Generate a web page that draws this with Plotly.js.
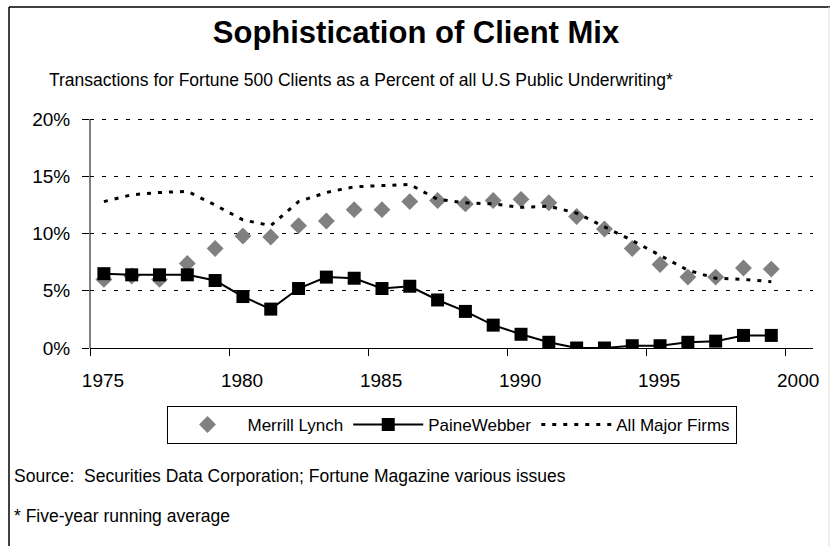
<!DOCTYPE html>
<html>
<head>
<meta charset="utf-8">
<script src="https://cdn.plot.ly/plotly-3.0.1.min.js"></script>
<style>
html,body{margin:0;padding:0;background:#fff;}
#chart{width:830px;height:546px;}
</style>
</head>
<body>
<div id="chart"></div>
<script>
// Data (percent values)
var years = [1975,1976,1977,1978,1979,1980,1981,1982,1983,1984,1985,1986,1987,1988,1989,1990,1991,1992,1993,1994,1995,1996,1997,1998,1999];
var merrillLynch = [6.0,6.3,6.0,7.4,8.7,9.8,9.7,10.7,11.1,12.1,12.1,12.8,12.9,12.6,12.9,13.0,12.7,11.5,10.4,8.7,7.3,6.2,6.2,7.0,6.9];
var paineWebber = [6.5,6.4,6.4,6.4,5.9,4.5,3.4,5.2,6.2,6.1,5.2,5.4,4.2,3.2,2.0,1.2,0.5,0.0,0.0,0.2,0.2,0.5,0.6,1.1,1.1];
var allMajorFirms = [12.8,13.4,13.6,13.7,12.5,11.2,10.7,12.8,13.6,14.1,14.2,14.3,13.0,12.7,12.6,12.3,12.4,11.8,10.6,9.4,8.1,6.8,6.1,6.0,5.8];
var seriesNames = ["Merrill Lynch","PaineWebber","All Major Firms"];
var titleText = "Sophistication of Client Mix";
var subtitleText = "Transactions for Fortune 500 Clients as a Percent of all U.S Public Underwriting*";
var sourceText = "Source:\u00a0 Securities Data Corporation; Fortune Magazine various issues";
var noteText = "* Five-year running average";

// points plotted at mid-year
var xMid = years.map(function(y){return y + 0.5;});

var W = 830, H = 546, L = 90, R = 17, T = 117, B = 198;
var PW = W - L - R, PH = H - T - B;
function px(x){return (x - L) / PW;}
function py(y){return (H - B - y) / PH;}

var FONT = "Liberation Sans, Arial, sans-serif";

var traces = [
  {x:xMid, y:merrillLynch, name:seriesNames[0], type:"scatter", mode:"markers",
   marker:{symbol:"diamond", size:13, color:"#808080"}},
  {x:xMid, y:paineWebber, name:seriesNames[1], type:"scatter", mode:"lines+markers",
   line:{color:"#000", width:2}, marker:{symbol:"square", size:13, color:"#000"}},
  {x:xMid, y:allMajorFirms, name:seriesNames[2], type:"scatter", mode:"lines",
   line:{color:"#000", width:3, dash:"4px,7px"}}
];

var layout = {
  width:W, height:H,
  margin:{l:L, r:R, t:T, b:B},
  paper_bgcolor:"#fff", plot_bgcolor:"#fff",
  font:{family:FONT, color:"#000"},
  showlegend:true,
  legend:{orientation:"h", x:0.5, xanchor:"center", y:py(406), yanchor:"top",
    bordercolor:"#000", borderwidth:1, font:{size:17, family:FONT}, itemwidth:70,
    bgcolor:"#fff", tracegroupgap:0},
  xaxis:{range:[1975,2001], tick0:1975, dtick:5, showgrid:false, zeroline:false,
    showline:true, linecolor:"#000", linewidth:1, ticks:"outside", ticklen:7,
    tickcolor:"#000", tickfont:{size:19, family:FONT}, ticklabelshift:13,
    ticklabelstandoff:8, fixedrange:true},
  yaxis:{range:[0,20.2], tick0:0, dtick:5, ticksuffix:"%", showgrid:true,
    gridcolor:"#000", griddash:"4px,8px", gridwidth:1, zeroline:false,
    showline:false, ticks:"outside", ticklen:7,
    tickcolor:"#000", tickfont:{size:19, family:FONT}, ticklabelstandoff:8,
    fixedrange:true},
  title:{text:titleText, font:{size:31, family:FONT, weight:"bold"},
    x:416/W, xanchor:"center", y:1-32/H, yanchor:"middle", xref:"container", yref:"container"},
  annotations:[
    {text:subtitleText, xref:"paper", yref:"paper", x:px(47), y:py(80), xanchor:"left", yanchor:"middle",
     showarrow:false, font:{size:17.5, family:FONT}},
    {text:sourceText, xref:"paper", yref:"paper", x:px(12), y:py(476), xanchor:"left", yanchor:"middle",
     showarrow:false, font:{size:17.5, family:FONT}},
    {text:noteText, xref:"paper", yref:"paper", x:px(12), y:py(516), xanchor:"left", yanchor:"middle",
     showarrow:false, font:{size:17.5, family:FONT}}
  ],
  shapes:[
    // y axis line from 0% to 20%
    {type:"line", xref:"paper", yref:"y", x0:0, x1:0, y0:0, y1:20, line:{color:"#000", width:1}},
    {type:"line", xref:"paper", yref:"paper", x0:px(9), x1:px(9), y0:py(7), y1:py(546), line:{color:"#000", width:1.5}},
    {type:"line", xref:"paper", yref:"paper", x0:px(9), x1:px(830), y0:py(7), y1:py(7), line:{color:"#000", width:1.5}},
    {type:"line", xref:"paper", yref:"paper", x0:px(829), x1:px(829), y0:py(7), y1:py(546), line:{color:"#ddd", width:1}}
  ]
};

Plotly.newPlot("chart", traces, layout, {displayModeBar:false, staticPlot:true});
</script>
</body>
</html>
